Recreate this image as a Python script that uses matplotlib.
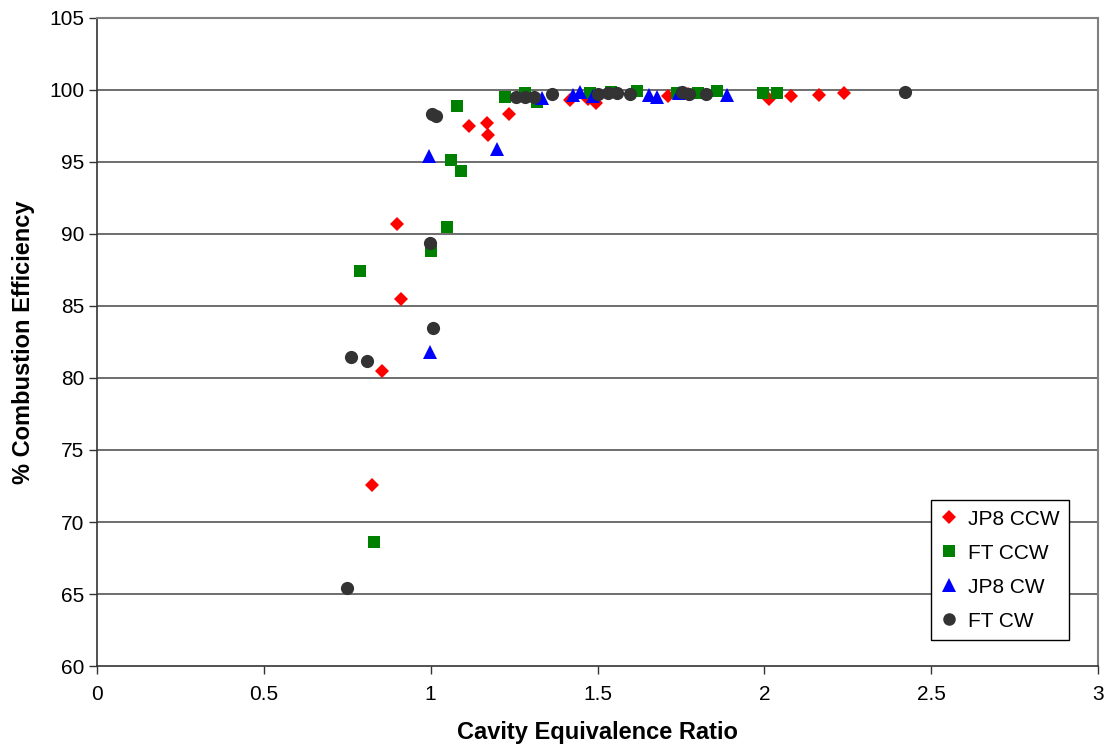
import matplotlib
matplotlib.use("Agg")
import matplotlib.pyplot as plt

plt.rcParams['font.family'] = ['Liberation Sans', 'DejaVu Sans']

jp8_ccw_x = [0.824, 0.854, 0.899, 0.911, 1.115, 1.169, 1.172, 1.235, 1.417, 1.47, 1.495,
             1.71, 1.77, 2.015, 2.08, 2.163, 2.24]
jp8_ccw_y = [72.6, 80.5, 90.7, 85.5, 97.5, 97.7, 96.9, 98.3, 99.3, 99.4, 99.1,
             99.6, 99.7, 99.4, 99.6, 99.65, 99.8]

ft_ccw_x = [0.788, 0.830, 1.001, 1.049, 1.061, 1.091, 1.079, 1.224, 1.283, 1.318, 1.477,
            1.54, 1.618, 1.738, 1.80, 1.858, 1.996, 2.038]
ft_ccw_y = [87.4, 68.6, 88.8, 90.5, 95.15, 94.4, 98.9, 99.5, 99.8, 99.2, 99.8,
            99.85, 99.9, 99.8, 99.8, 99.9, 99.8, 99.8]

jp8_cw_x = [0.995, 0.998, 1.199, 1.335, 1.426, 1.448, 1.487, 1.655, 1.679, 1.745, 1.888]
jp8_cw_y = [95.4, 81.8, 95.9, 99.45, 99.65, 99.85, 99.6, 99.65, 99.5, 99.8, 99.65]

ft_cw_x = [0.749, 0.761, 0.809, 0.998, 1.007, 1.004, 1.016, 1.256, 1.283, 1.310, 1.364,
           1.50, 1.53, 1.558, 1.597, 1.753, 1.774, 1.825, 2.421]
ft_cw_y = [65.4, 81.45, 81.2, 89.4, 83.5, 98.3, 98.2, 99.5, 99.5, 99.5, 99.7,
           99.7, 99.8, 99.8, 99.7, 99.85, 99.7, 99.7, 99.85]

x_ticks = [0, 0.5, 1, 1.5, 2, 2.5, 3]
x_tick_labels = ['0', '0.5', '1', '1.5', '2', '2.5', '3']
y_ticks = [60, 65, 70, 75, 80, 85, 90, 95, 100, 105]

fig = plt.figure(figsize=(11.06, 7.49), dpi=100)
ax = fig.add_axes([0.0877, 0.1108, 0.9051, 0.8652])

ax.set_xlim(0, 3)
ax.set_ylim(60, 105)
ax.set_xticks(x_ticks)
ax.set_xticklabels(x_tick_labels)
ax.set_yticks(y_ticks)

for y in y_ticks[1:]:
    ax.axhline(y, color='#555555' if y < 105 else '#808080', lw=1.2, zorder=1)

ax.plot(jp8_ccw_x, jp8_ccw_y, 'D', color='#FF0000', markersize=7, mew=0, label='JP8 CCW', zorder=3)
ax.plot(ft_ccw_x, ft_ccw_y, 's', color='#008000', markersize=9, mew=0, label='FT CCW', zorder=3)
ax.plot(jp8_cw_x, jp8_cw_y, '^', color='#0000FF', markersize=10, mew=0, label='JP8 CW', zorder=4)
ax.plot(ft_cw_x, ft_cw_y, 'o', color='#333333', markersize=9.5, mew=0, label='FT CW', zorder=5)

for s in ['top', 'right']:
    ax.spines[s].set_color('#808080')
    ax.spines[s].set_linewidth(1.5)
for s in ['left', 'bottom']:
    ax.spines[s].set_color('#333333')
    ax.spines[s].set_linewidth(1.2)

ax.tick_params(axis='both', direction='out', length=6, width=1, colors='#333333',
               labelsize=15, labelcolor='black')
ax.tick_params(axis='x', pad=8)
ax.tick_params(axis='y', pad=3)

ax.set_xlabel('Cavity Equivalence Ratio', fontsize=17, fontweight='bold', labelpad=12)
ax.set_ylabel('% Combustion Efficiency', fontsize=17, fontweight='bold', labelpad=10)

leg = ax.legend(loc='lower right', bbox_to_anchor=(0.9705, 0.04), fontsize=15,
                frameon=True, fancybox=False, edgecolor='black', framealpha=1,
                handlelength=0.8, handletextpad=0.5, borderpad=0.45, labelspacing=0.72,
                borderaxespad=0, markerscale=0.95)
leg.get_frame().set_linewidth(1.0)

fig.savefig('out.png', dpi=100)
